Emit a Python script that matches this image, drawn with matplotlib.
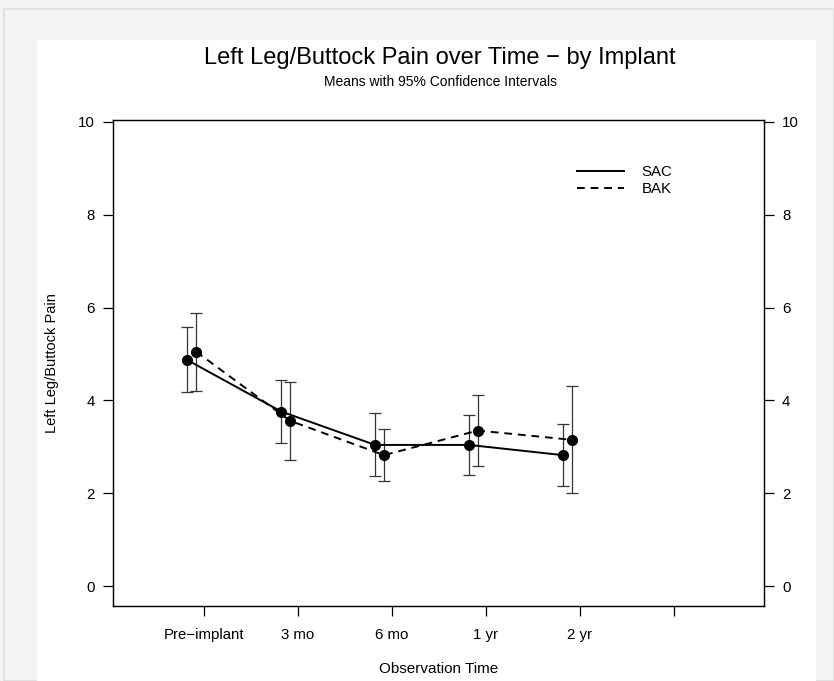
import matplotlib
matplotlib.use("Agg")
import matplotlib.pyplot as plt
from matplotlib.patches import Rectangle
from matplotlib.lines import Line2D
import numpy as np

plt.rcParams['font.family'] = ['Liberation Sans', 'DejaVu Sans']

categories = ["Pre\u2212implant", "3 mo", "6 mo", "1 yr", "2 yr", ""]
series_names = ["SAC", "BAK"]
sac_mean = [4.87, 3.76, 3.04, 3.04, 2.82]
sac_low = [4.17, 3.08, 2.37, 2.40, 2.16]
sac_high = [5.59, 4.44, 3.72, 3.69, 3.49]
bak_mean = [5.05, 3.56, 2.82, 3.35, 3.15]
bak_low = [4.21, 2.72, 2.26, 2.58, 2.01]
bak_high = [5.89, 4.39, 3.38, 4.11, 4.30]
y_ticks = [0, 2, 4, 6, 8, 10]

W, H = 834, 681
fig = plt.figure(figsize=(W / 100, H / 100), dpi=100)
fig.patch.set_facecolor('#f3f3f3')
fig.add_artist(Rectangle((4 / W, 0), (W - 4) / W, (H - 9) / H, transform=fig.transFigure,
                         facecolor='#f3f3f3', edgecolor='#dddddd', lw=1.2, zorder=0))
fig.add_artist(Rectangle((37 / W, 0), (816 - 37) / W, (H - 40) / H, transform=fig.transFigure,
                         facecolor='white', edgecolor='none', zorder=0))

ax = fig.add_axes([113 / W, 1 - 606 / H, (764 - 113) / W, (606 - 120) / H])
ax.set_facecolor('white')

x = np.arange(1, len(categories) + 1)
n = len(sac_mean)
xs = x[:n] - 0.18
xb = x[:n] - 0.085

ax.plot(xs, sac_mean, '-', color='black', lw=1.4, zorder=3)
ax.plot(xb, bak_mean, '--', color='black', lw=1.4, dashes=(4, 3), zorder=3)
ax.plot(xs, sac_mean, 'o', color='black', ms=7, zorder=4)
ax.plot(xb, bak_mean, 'o', color='black', ms=7, zorder=4)

def ebars(xx, m, lo, hi):
    ax.errorbar(xx, m, yerr=[np.array(m) - np.array(lo), np.array(hi) - np.array(m)],
                fmt='none', ecolor='#333333', elinewidth=0.9, capsize=4, capthick=0.9, zorder=2)

ebars(xs, sac_mean, sac_low, sac_high)
ebars(xb, bak_mean, bak_low, bak_high)

ax.set_xlim(0.03, 6.96)
ax.set_ylim(-0.43, 10.04)
ax.set_xticks(x)
ax.set_xticklabels(categories)
ax.set_yticks(y_ticks)
ax.tick_params(axis='both', direction='out', length=7, width=0.9, labelsize=10.8, pad=6)
ax.tick_params(axis='x', pad=9)
for s in ax.spines.values():
    s.set_linewidth(1.0)
    s.set_color('#222222')

ax2 = ax.twinx()
ax2.set_ylim(ax.get_ylim())
ax2.set_yticks(y_ticks)
ax2.tick_params(axis='y', direction='out', length=7, width=0.9, labelsize=10.8, pad=6)

ax.set_ylabel("Left Leg/Buttock Pain", fontsize=10.5, labelpad=14)
ax.set_xlabel("Observation Time", fontsize=11, labelpad=14)

fig.text(440 / W, 1 - 58 / H, "Left Leg/Buttock Pain over Time \u2212 by Implant",
         ha='center', va='center', fontsize=17)
fig.text(440 / W, 1 - 82 / H, "Means with 95% Confidence Intervals",
         ha='center', va='center', fontsize=10)

handles = [Line2D([0], [0], color='black', lw=1.4, ls='-'),
           Line2D([0], [0], color='black', lw=1.4, ls='--', dashes=(4, 3))]
ax.legend(handles, series_names, loc='upper right', bbox_to_anchor=(0.88, 0.935),
          frameon=False, fontsize=10.8, handlelength=3.1, handletextpad=1.2,
          labelspacing=0.2)

fig.savefig("out.png", dpi=100, facecolor=fig.get_facecolor())
